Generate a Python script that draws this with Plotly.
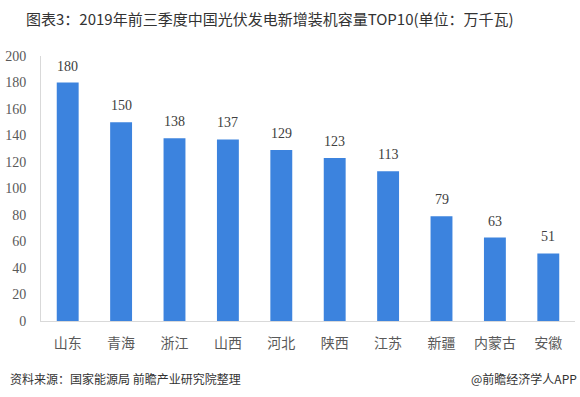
import plotly.graph_objects as go

categories = ["山东", "青海", "浙江", "山西", "河北", "陕西", "江苏", "新疆", "内蒙古", "安徽"]
values = [180, 150, 138, 137, 129, 123, 113, 79, 63, 51]
y_ticks = [0, 20, 40, 60, 80, 100, 120, 140, 160, 180, 200]

title_text = "图表3：2019年前三季度中国光伏发电新增装机容量TOP10(单位：万千瓦)"
source_text = "资料来源：国家能源局 前瞻产业研究院整理"
brand_text = "@前瞻经济学人APP"

W, H = 580, 397
L, R, T, B = 38, 5, 56, 76
pw = W - L - R
ph = H - T - B


def px(x):
    return (x - L) / pw


def py(y):
    return (H - B - y) / ph


fig = go.Figure()
fig.add_trace(go.Bar(
    x=categories, y=values,
    marker=dict(color="#3C83DE", line=dict(width=0)),
    width=0.41,
    hoverinfo="x+y",
))

annotations = []
for c, v in zip(categories, values):
    annotations.append(dict(
        x=c, y=v, xref="x", yref="y", text=str(v), showarrow=False,
        yanchor="bottom", yshift=7,
        font=dict(family="Liberation Serif, serif", size=14, color="#404040"),
    ))

annotations += [
    dict(text=title_text, x=px(21), y=py(18), xref="paper", yref="paper", showarrow=False,
         xanchor="left", yanchor="middle",
         font=dict(family="Noto Sans CJK SC, sans-serif", size=15, color="#333333")),
    dict(text=source_text, x=px(5), y=py(378), xref="paper", yref="paper", showarrow=False,
         xanchor="left", yanchor="middle",
         font=dict(family="Noto Sans CJK SC, sans-serif", size=12, color="#333333")),
    dict(text=brand_text, x=px(579), y=py(378), xref="paper", yref="paper", showarrow=False,
         xanchor="right", yanchor="middle",
         font=dict(family="Noto Sans CJK SC, sans-serif", size=12, color="#333333")),
]

fig.update_layout(
    width=W, height=H,
    margin=dict(l=L, r=R, t=T, b=B),
    paper_bgcolor="white", plot_bgcolor="white",
    showlegend=False,
    bargap=0.59,
    xaxis=dict(
        showline=True, linecolor="#D9D9D9", linewidth=1,
        tickfont=dict(family="Noto Sans CJK SC, sans-serif", size=14, color="#595959"),
        ticks="", showgrid=False, ticklabelstandoff=9,
    ),
    yaxis=dict(
        range=[0, 200], tickvals=y_ticks,
        showline=True, linecolor="#D9D9D9", linewidth=1,
        showgrid=False, zeroline=False, ticks="",
        tickfont=dict(family="Liberation Serif, serif", size=14, color="#595959"),
        ticklabelstandoff=11,
    ),
    annotations=annotations,
)

fig.write_html(
    "out.html",
    config={"displayModeBar": False},
    post_script="document.body.style.margin='0';document.body.style.overflow='hidden';",
)
